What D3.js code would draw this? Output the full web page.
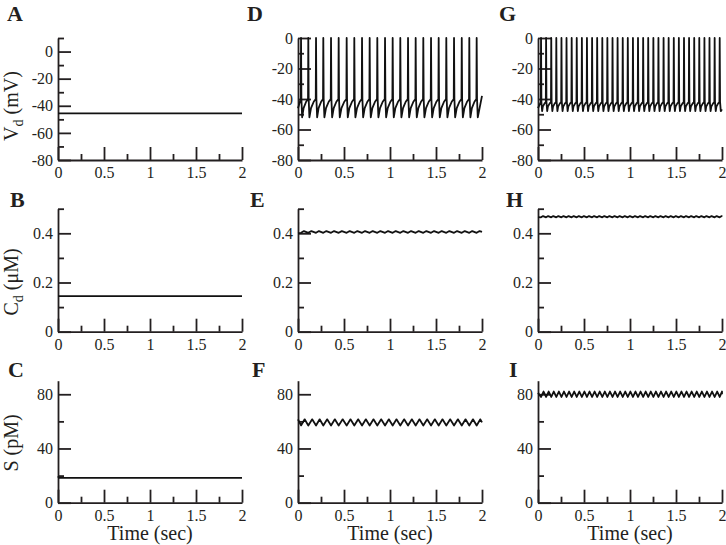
<!DOCTYPE html>
<html>
<head>
<meta charset="utf-8">
<script src="https://cdn.jsdelivr.net/npm/d3@7"></script>
<style>
  html, body { margin: 0; padding: 0; background: #fff; }
  svg { display: block; }
  svg text { font-family: "Liberation Serif", "Times New Roman", serif !important; fill: #231f20; }
</style>
</head>
<body>
<svg id="chart" width="726" height="545"></svg>
<script>
// ---------------- data ----------------
const timeDomain = [0, 2];
const timeTicks = [0, 0.5, 1, 1.5, 2];
const timeMinorTicks = [0.25, 0.75, 1.25, 1.75];

const vdDomainRest = [-80, 10];
const vdDomainSpiking = [-80, 0];
const vdTicks = [-80, -60, -40, -20, 0];
const vdMinorRest = [-70, -50, -30, -10, 10];
const vdMinorSpiking = [-70, -50, -30, -10];

const cdDomain = [0, 0.5];
const cdTicks = [0, 0.2, 0.4];
const cdMinor = [0.1, 0.3, 0.5];

const sDomain = [0, 90];
const sTicks = [0, 40, 80];
const sMinor = [20, 60];

// column 1: resting
const restVd = -45.6;
const restCd = 0.145;
const restS = 18.3;

// column 2: slower spiking (spike times, s)
const spikeTimesD = [0.033, 0.112, 0.196, 0.275, 0.359, 0.442, 0.529, 0.612, 0.696, 0.779,
  0.862, 0.946, 1.029, 1.112, 1.196, 1.279, 1.362, 1.446, 1.529, 1.612, 1.696, 1.780, 1.862, 1.942];
const vdLevelsD = { start: -46, pre: -40, peak: 0, trough: -52, end: -38 };
const cdLevelsD = { start: 0.400, low: 0.402, high: 0.409 };
const sLevelsD = { start: 61.5, low: 57, high: 61.5 };

// column 3: faster spiking (spike times, s)
const spikeTimesG = [0.033, 0.088, 0.144, 0.199, 0.255, 0.310, 0.366, 0.421, 0.477, 0.532,
  0.588, 0.643, 0.699, 0.754, 0.810, 0.865, 0.921, 0.976, 1.032, 1.087, 1.143, 1.198,
  1.254, 1.309, 1.365, 1.420, 1.476, 1.531, 1.587, 1.642, 1.698, 1.753, 1.809, 1.864, 1.920, 1.975];
const vdLevelsG = { start: -46, pre: -42, peak: 0, trough: -48, end: -47 };
const cdLevelsG = { start: 0.466, low: 0.465, high: 0.470 };
const sLevelsG = { start: 81, low: 78, high: 82 };

const panelLetters = ["A", "B", "C", "D", "E", "F", "G", "H", "I"];

// ---------------- layout ----------------
const colX = [58, 298, 538];
const plotW = 184;
const rows = [{ top: 38, bottom: 160 }, { top: 208.7, bottom: 331.7 }, { top: 380.7, bottom: 502.7 }];

const svg = d3.select("#chart");
const ink = "#231f20";
const serif = '"Liberation Serif", "Times New Roman", serif';

// ---------------- waveform builders ----------------
function vdTrace(times, L) {
  const pts = [[0, L.start]];
  times.forEach((t, i) => {
    const next = i + 1 < times.length ? times[i + 1] : null;
    pts.push([t - 0.003, L.pre]);
    pts.push([t, L.peak]);
    pts.push([t + 0.004, L.pre]);
    pts.push([t + 0.012, L.trough]);
    if (next !== null) {
      const p = next - t;
      pts.push([t + 0.35 * p, L.trough + 0.5 * (L.pre - L.trough)]);
      pts.push([t + 0.7 * p, L.trough + 0.85 * (L.pre - L.trough)]);
    }
  });
  const last = times[times.length - 1];
  if (2 - last > 0.03) pts.push([2, L.end]);
  else pts.push([2, L.trough + 0.2 * (L.pre - L.trough)]);
  return pts;
}
function sawTrace(times, L, riseFrac) {
  const pts = [[0, L.start]];
  times.forEach((t, i) => {
    const next = i + 1 < times.length ? times[i + 1] : t + (t - times[i - 1]);
    pts.push([t, L.low]);
    pts.push([Math.min(2, t + riseFrac * (next - t)), L.high]);
  });
  pts.push([2, (L.low + L.high) / 2]);
  return pts.filter(p => p[0] <= 2);
}

// ---------------- panel drawer ----------------
function panel(col, row, yDomain, yTicks, yMinor, yFmt, data, letter, letterPos) {
  const x0 = colX[col], r = rows[row];
  const x = d3.scaleLinear().domain(timeDomain).range([x0, x0 + plotW]);
  const y = d3.scaleLinear().domain(yDomain).range([r.bottom, r.top]);
  const g = svg.append("g");

  // x axis
  g.append("g").attr("transform", `translate(0,${r.bottom})`)
    .call(d3.axisBottom(x).tickValues(timeTicks).tickSizeInner(-13).tickSizeOuter(0).tickPadding(6.5)
      .tickFormat(d => String(d)));
  const xm = g.append("g").attr("transform", `translate(0,${r.bottom})`)
    .call(d3.axisBottom(x).tickValues(timeMinorTicks).tickSizeInner(-6).tickSizeOuter(0).tickFormat(""));
  xm.select(".domain").remove();

  // y axis
  g.append("g").attr("transform", `translate(${x0},0)`)
    .call(d3.axisLeft(y).tickValues(yTicks).tickSizeInner(-13).tickSizeOuter(0).tickPadding(5)
      .tickFormat(yFmt));
  const ym = g.append("g").attr("transform", `translate(${x0},0)`)
    .call(d3.axisLeft(y).tickValues(yMinor).tickSizeInner(-6).tickSizeOuter(0).tickFormat(""));
  ym.select(".domain").remove();

  g.selectAll("g").attr("font-family", null);
  g.selectAll(".domain, .tick line").attr("stroke", ink).attr("stroke-width", 1.8);
  g.selectAll(".tick text").style("font-family", serif).style("font-size", "16px").style("fill", ink);

  // data line
  const line = d3.line().x(d => x(d[0])).y(d => y(d[1]));
  g.append("path").datum(data).attr("d", line)
    .attr("fill", "none").attr("stroke", "#111").attr("stroke-width", 1.8).attr("stroke-linejoin", "round");

  // letter
  svg.append("text").attr("x", letterPos[0]).attr("y", letterPos[1])
    .style("font-family", serif).attr("font-size", 22).attr("font-weight", "bold").text(letter);
}

const vdFmt = d => String(d);
const cdFmt = d => String(d);
const sFmt = d => String(d);

// column 1
panel(0, 0, vdDomainRest, vdTicks, vdMinorRest, vdFmt, [[0, restVd], [2, restVd]], panelLetters[0], [7, 21]);
panel(0, 1, cdDomain, cdTicks, cdMinor, cdFmt, [[0, restCd], [2, restCd]], panelLetters[1], [10, 207]);
panel(0, 2, sDomain, sTicks, sMinor, sFmt, [[0, 19.5], [0.01, restS], [2, restS]], panelLetters[2], [8, 377]);

// column 2
panel(1, 0, vdDomainSpiking, vdTicks, vdMinorSpiking, vdFmt, vdTrace(spikeTimesD, vdLevelsD), panelLetters[3], [247, 21]);
panel(1, 1, cdDomain, cdTicks, cdMinor, cdFmt, sawTrace(spikeTimesD, cdLevelsD, 0.4), panelLetters[4], [250, 207]);
panel(1, 2, sDomain, sTicks, sMinor, sFmt, sawTrace(spikeTimesD, sLevelsD, 0.5), panelLetters[5], [252, 377]);

// column 3
panel(2, 0, vdDomainSpiking, vdTicks, vdMinorSpiking, vdFmt, vdTrace(spikeTimesG, vdLevelsG), panelLetters[6], [499, 21]);
panel(2, 1, cdDomain, cdTicks, cdMinor, cdFmt, sawTrace(spikeTimesG, cdLevelsG, 0.4), panelLetters[7], [506, 207]);
panel(2, 2, sDomain, sTicks, sMinor, sFmt, sawTrace(spikeTimesG, sLevelsG, 0.5), panelLetters[8], [509, 377]);

// ---------------- axis titles ----------------
function yTitle(cx, cy, main, sub, rest) {
  const t = svg.append("text").attr("transform", `translate(${cx},${cy}) rotate(-90)`)
    .style("font-family", serif).attr("text-anchor", "middle").attr("font-size", 20);
  t.append("tspan").text(main);
  t.append("tspan").attr("font-size", 14).attr("dy", "0.35em").text(sub);
  t.append("tspan").attr("dy", "-0.25em").text(rest);
}
yTitle(18, 106, "V", "d", " (mV)");
yTitle(18, 282, "C", "d", " (\u03bcM)");
svg.append("text").attr("transform", "translate(18,443) rotate(-90)")
  .style("font-family", serif).attr("text-anchor", "middle").attr("font-size", 20).text("S (pM)");

[150, 390, 630].forEach(cx => {
  svg.append("text").attr("x", cx).attr("y", 540).attr("text-anchor", "middle")
    .style("font-family", serif).attr("font-size", 20).text("Time (sec)");
});
</script>
</body>
</html>
